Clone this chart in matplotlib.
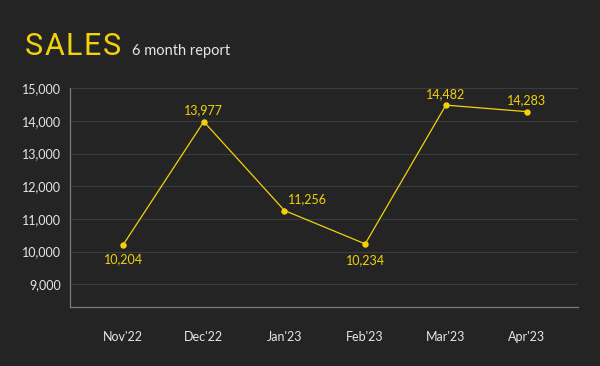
import matplotlib
matplotlib.use('Agg')
import matplotlib.pyplot as plt

months = ["Nov'22", "Dec'22", "Jan'23", "Feb'23", "Mar'23", "Apr'23"]
sales = [10204, 13977, 11256, 10234, 14482, 14283]
yticks = [9000, 10000, 11000, 12000, 13000, 14000, 15000]
# where each value label sits, in px from the marker
label_pos = [(0, -14, 'center'), (0, 11, 'center'), (3, 11, 'left'),
             (0, -16, 'center'), (0, 11, 'center'), (0, 11, 'center')]

bg = '#242424'
yellow = '#f3d20c'

plt.rcParams['font.family'] = ['Lato', 'DejaVu Sans']

fig = plt.figure(figsize=(6, 3.66), dpi=100, facecolor=bg)
ax = fig.add_axes([0.116, 0.161, 0.847, 0.598])
ax.set_facecolor(bg)

x = list(range(len(months)))
ax.plot(x, sales, color=yellow, lw=0.9, marker='o', ms=3.6, zorder=3)

for i, v in enumerate(sales):
    dx, dy, ha = label_pos[i]
    # px -> pt (dpi 100)
    ax.annotate(f'{v:,}', (i, v), xytext=(dx * 0.72, dy * 0.72), textcoords='offset points',
                ha=ha, va='center', color=yellow, fontsize=9)

ax.set_xlim(-0.663, 5.635)
ax.set_ylim(8300, 15000)
ax.set_xticks(x)
ax.set_xticklabels(months)
ax.set_yticks(yticks)
ax.set_yticklabels([f'{t:,}' for t in yticks])
ax.tick_params(axis='both', length=0, colors='#e6e6e6', labelsize=9)
ax.tick_params(axis='y', pad=6)
ax.tick_params(axis='x', pad=17)
ax.grid(axis='y', color='#3b3b3b', lw=0.8)
ax.set_axisbelow(True)

for s in ['top', 'right']:
    ax.spines[s].set_visible(False)
for s in ['left', 'bottom']:
    ax.spines[s].set_color('#7a7a7a')
    ax.spines[s].set_linewidth(0.9)

# title letters spaced out one by one
tx = 25
for ch in 'SALES':
    t = fig.text(tx / 600, 1 - 55 / 366, ch, color=yellow, fontsize=22, family='Roboto',
                 fontweight='normal', ha='left', va='baseline')
    w = t.get_window_extent(fig.canvas.get_renderer()).width
    tx += w + 1.5
fig.text(132 / 600, 1 - 55 / 366, '6 month report', color='#e6e6e6', fontsize=10.5,
         ha='left', va='baseline')

fig.savefig('out.png', dpi=100, facecolor=bg)
